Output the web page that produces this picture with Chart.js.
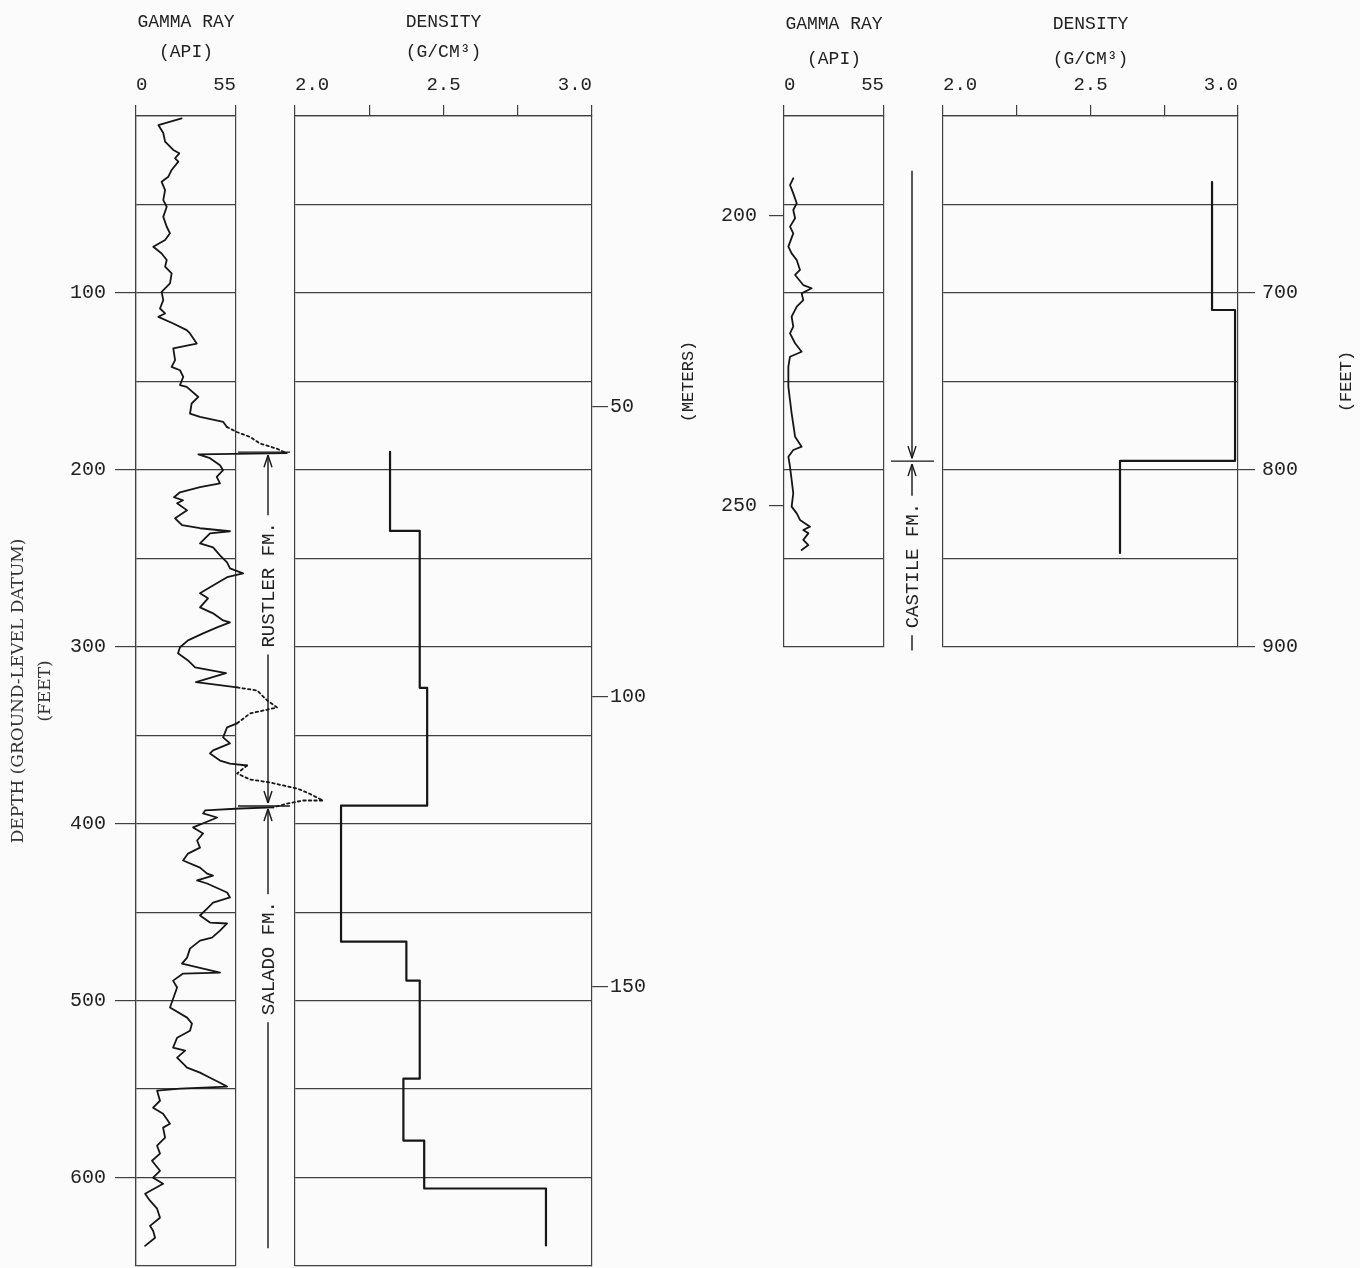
<!DOCTYPE html>
<html>
<head>
<meta charset="utf-8">
<title>Gamma ray and density logs</title>
<script src="https://cdn.jsdelivr.net/npm/chart.js@4.4.1/dist/chart.umd.min.js"></script>
<style>
  html, body { margin: 0; padding: 0; background: #fbfbfb; overflow: hidden; }
  body { width: 1360px; height: 1268px; position: relative; }
  canvas { position: absolute; top: 0; }
</style>
</head>
<body>
<canvas id="rho-upper" width="420" height="1268" style="left:240px"></canvas>
<canvas id="gr-upper" width="340" height="1268" style="left:0"></canvas>
<canvas id="rho-lower" width="430" height="660" style="left:930px"></canvas>
<canvas id="gr-lower" width="300" height="660" style="left:660px"></canvas>
<script>
(function () {
  'use strict';

  // Upper log, 0-650 ft: gamma ray trace (depth in feet, reading in API units)
  var grUpperFt = [1.3, 5.1, 9.6, 14.5, 19.2, 21.1, 23.9, 25.8, 30.5, 34.3, 37.2, 41.9, 47.5, 51.3, 57.0, 62.6,
    66.3, 70.1, 73.9, 77.7, 81.4, 85.2, 89.0, 94.6, 99.4, 104.1, 108.8, 111.6, 113.5, 117.3, 121.0, 122.9,
    128.6, 131.4, 138.0, 141.8, 143.7, 147.4, 152.1, 153.1, 158.8, 162.5, 168.2, 170.1, 172.9, 175.7,
    178.6, 181.4, 185.1, 188.0, 190.6, 191.2, 193.4, 197.4, 200.2, 204.0, 207.6, 209.8, 212.7, 215.5,
    217.2, 218.9, 222.9, 227.4, 231.3, 233.0, 234.7, 235.9, 241.5, 243.8, 248.3, 252.3, 255.7, 258.5,
    260.7, 266.4, 269.8, 272.6, 277.7, 281.1, 285.1, 286.2, 289.0, 292.4, 296.4, 300.3, 303.7, 307.7,
    311.6, 314.9, 320.0, 323.0, 324.7, 330.3, 334.3, 337.7, 343.3, 345.6, 351.2, 354.6, 358.6, 360.3,
    364.3, 366.0, 367.1, 371.6, 375.0, 376.7, 378.4, 380.1, 382.4, 386.9, 386.9, 388.6, 390.8, 391.4,
    392.5, 394.2, 396.5, 398.2, 402.1, 405.5, 409.5, 413.5, 416.9, 420.8, 424.8, 428.2, 429.3, 432.1,
    433.8, 438.9, 441.7, 444.6, 448.0, 451.9, 455.9, 456.4, 460.4, 464.4, 466.1, 470.6, 475.7, 479.1,
    484.2, 484.7, 488.7, 492.6, 503.9, 509.6, 513.0, 517.0, 521.0, 526.6, 528.3, 532.2, 537.9, 540.7,
    543.6, 546.4, 548.6, 549.8, 550.9, 556.6, 560.5, 563.9, 569.6, 571.8, 577.5, 582.0, 586.5, 590.5,
    596.2, 600.1, 603.5, 609.2, 613.1, 617.6, 622.7, 627.3, 630.1, 634.0, 638.6];
  var grUpperApi = [25.1, 12.3, 15.0, 16.0, 20.5, 23.8, 21.5, 23.3, 19.6, 17.8, 14.1, 16.0, 15.0, 16.9, 15.0, 16.9,
    18.7, 16.0, 9.5, 14.1, 16.9, 16.0, 19.6, 18.7, 14.1, 15.0, 13.2, 16.0, 12.3, 20.5, 27.9, 29.7,
    33.4, 20.5, 21.5, 19.6, 24.2, 26.0, 24.2, 27.9, 34.3, 30.6, 29.7, 35.2, 48.0, 49.9,
    55.4, 62.7, 68.2, 77.4, 82.9, 34.3, 40.7, 46.2, 47.9, 44.4, 46.2, 35.2, 24.2, 20.9,
    25.9, 22.6, 28.1, 21.5, 25.3, 35.2, 51.7, 40.7, 35.2, 42.4, 46.2, 50.1, 51.7, 58.9,
    50.1, 40.7, 35.2, 39.6, 35.2, 42.4, 47.9, 51.7, 44.6, 36.9, 28.6, 24.2, 23.1, 28.6,
    32.5, 49.5, 33.0, 55.6, 66.6, 72.1, 77.6, 62.7, 55.6, 50.1, 47.9, 51.7, 42.4, 40.7,
    46.2, 51.7, 61.1, 55.6, 62.7, 73.7, 80.9, 88.6, 94.1, 102.9, 91.9, 83.1, 75.4, 57.2,
    38.0, 36.9, 44.6, 40.7, 31.4, 36.9, 33.6, 35.2, 28.6, 25.9, 35.2, 39.1, 42.4, 33.6,
    39.1, 50.1, 51.7, 42.4, 39.1, 35.2, 40.7, 50.1, 46.2, 41.8, 35.2, 29.7, 28.1, 25.3,
    46.2, 25.9, 20.4, 22.6, 18.7, 28.1, 30.8, 29.7, 22.6, 20.4, 27.0, 22.6, 28.1, 35.2,
    40.7, 46.2, 50.1, 24.2, 11.6, 13.2, 9.4, 14.9, 18.7, 14.9, 16.0, 11.6, 13.2, 8.8,
    13.2, 9.4, 14.9, 5.0, 7.7, 11.6, 13.2, 7.7, 9.4, 10.5, 5.0];
  // depth ranges where the gamma trace is drawn dotted (off-scale readings)
  var grUpperDottedFt = [[175.5, 190.7], [322.9, 343.4], [366.9, 390.9]];

  // Upper log bulk density, stepped: each value holds from its top down to the next top
  var rhoUpperTopFt = [189.8, 234.5, 323.2, 389.8, 466.7, 488.7, 544.1, 579.1, 606.2, 638.4];
  var rhoUpperGcc = [2.32, 2.42, 2.445, 2.155, 2.375, 2.42, 2.365, 2.435, 2.845, 2.845];

  // Lower log, 600-900 ft
  var grLowerFt = [635.2, 639.0, 643.7, 649.3, 653.1, 657.8, 662.5, 666.3, 673.8, 677.6, 681.4, 687.0,
    689.8, 695.5, 697.3, 700.2, 704.0, 707.7, 713.4, 719.0, 722.8, 728.4, 733.2, 736.0, 741.6, 752.9,
    760.5, 768.0, 781.2, 786.8, 788.7, 792.5, 798.1, 805.6, 813.2, 820.7, 824.5, 828.2, 832.0, 833.9,
    835.8, 839.5, 842.4, 845.2];
  var grLowerApi = [5.1, 3.3, 5.1, 7.0, 5.1, 6.1, 3.3, 5.1, 2.4, 4.2, 7.0, 8.8,
    6.1, 10.6, 15.2, 9.7, 10.6, 7.0, 4.2, 5.1, 3.3, 6.1, 9.7, 3.3, 2.4, 2.4,
    3.3, 4.2, 6.1, 9.7, 5.1, 2.4, 3.3, 4.2, 5.1, 4.2, 7.0, 8.8, 14.3, 10.6,
    13.4, 10.6, 13.4, 9.7];
  var rhoLowerTopFt = [637.3, 709.6, 794.9, 846.9];
  var rhoLowerGcc = [2.912, 2.99, 2.60, 2.60];

  // Depth tick labels
  var upperMeterTicks = [50, 100, 150];
  var lowerMeterTicks = [200, 250];

  // Formation picks (feet)
  var upperFmNames = ['RUSTLER FM.', 'SALADO FM.'];
  var upperFmTopFt = [190, 390];
  var upperFmBaseFt = [390, 640];
  var upperFmLabelFt = [265, 476];
  var upperContactsFt = [190, 390];
  var lowerFmNames = ['', 'CASTILE FM.'];
  var lowerFmTopFt = [631, 795];
  var lowerFmBaseFt = [795, 902];
  var lowerFmLabelFt = [null, 854];
  var lowerContactsFt = [795];

  var FT_PER_M = 3.28084;
  var INK = '#161616';
  var RULE = '#404040';
  var TEXT = '#222';
  var MONO = "'Liberation Mono', 'DejaVu Sans Mono', monospace";

  Chart.defaults.color = TEXT;
  Chart.defaults.font.family = MONO;

  function points(ys, xs) {
    return ys.map(function (y, i) { return { x: xs[i], y: y }; });
  }

  function inRanges(v, ranges) {
    return ranges.some(function (r) { return v >= r[0] && v <= r[1]; });
  }

  // pin the axis boxes so every track lands on the same pixels as the scan
  function fixWidth(w) {
    return function (s) { s.width = w; s.paddingTop = 0; s.paddingBottom = 0; };
  }
  function fixHeight(h) {
    return function (s) { s.height = h; s.paddingLeft = 0; s.paddingRight = 0; };
  }

  function halfStep(v) { return Math.abs(v * 2 - Math.round(v * 2)) < 1e-6; }

  // formation brackets drawn in the gap right of the gamma track
  var formationPlugin = {
    id: 'formations',
    afterDatasetsDraw: function (chart, args, o) {
      var ctx = chart.ctx, area = chart.chartArea, ys = chart.scales[o.axis];
      var x = area.right + o.offset;
      function seg(x1, y1, x2, y2) {
        ctx.beginPath(); ctx.moveTo(x1, y1); ctx.lineTo(x2, y2); ctx.stroke();
      }
      function arrow(y, dir) {
        seg(x - 4, y - dir * 12, x, y);
        seg(x + 4, y - dir * 12, x, y);
      }
      ctx.save();
      ctx.strokeStyle = INK;
      ctx.fillStyle = TEXT;
      ctx.lineWidth = 1.4;
      o.contacts.forEach(function (ft) {
        var py = ys.getPixelForValue(ft);
        seg(area.right + o.markFrom, py, area.right + o.markTo, py);
      });
      ctx.font = '19px ' + MONO;
      ctx.textAlign = 'center';
      ctx.textBaseline = 'middle';
      o.names.forEach(function (name, i) {
        var topC = o.contacts.indexOf(o.tops[i]) >= 0;
        var baseC = o.contacts.indexOf(o.bases[i]) >= 0;
        var t0 = ys.getPixelForValue(o.tops[i]) + (topC ? 3 : 0);
        var b0 = ys.getPixelForValue(o.bases[i]) - (baseC ? 3 : 0);
        if (name) {
          var mid = ys.getPixelForValue(o.labels[i]);
          var half = ctx.measureText(name).width / 2 + 7;
          seg(x, t0, x, mid - half);
          seg(x, mid + half, x, b0);
          ctx.save();
          ctx.translate(x, mid);
          ctx.rotate(-Math.PI / 2);
          ctx.fillText(name, 0, 1);
          ctx.restore();
        } else {
          seg(x, t0, x, b0);
        }
        if (topC) arrow(t0, -1);
        if (baseC) arrow(b0, 1);
      });
      ctx.restore();
    }
  };

  // vertical caption read bottom-to-top beside the right-hand axis
  var sideTitlePlugin = {
    id: 'sideTitle',
    afterDraw: function (chart, args, o) {
      if (!o.text) return;
      var ctx = chart.ctx, a = chart.chartArea;
      ctx.save();
      ctx.font = o.size + 'px ' + MONO;
      ctx.fillStyle = TEXT;
      ctx.textAlign = 'center';
      ctx.textBaseline = 'middle';
      ctx.translate(a.right + o.dx, (a.top + a.bottom) / 2);
      ctx.rotate(-Math.PI / 2);
      ctx.fillText(o.text, 0, 0);
      ctx.restore();
    }
  };

  function baseOptions(padding) {
    return {
      responsive: false,
      animation: false,
      events: [],
      layout: { padding: padding, autoPadding: false },
      plugins: { legend: { display: false }, tooltip: { enabled: false } },
      scales: {}
    };
  }

  function headerAxis(min, max, title, lineHeight) {
    return {
      type: 'linear', position: 'top', min: min, max: max,
      afterFit: fixHeight(116),
      ticks: { align: 'inner', padding: 9, autoSkip: false, maxRotation: 0, color: TEXT, font: { family: MONO, size: 19 } },
      grid: { drawOnChartArea: false, color: RULE, tickColor: RULE, tickLength: 11, lineWidth: 1.2 },
      border: { color: RULE, width: 1.2 },
      title: { display: true, text: title, color: TEXT, padding: { top: 7, bottom: 0 },
        font: { family: MONO, size: 18, lineHeight: lineHeight } }
    };
  }

  function gammaAxis(lineHeight) {
    var ax = headerAxis(0, 55, ['GAMMA RAY', '(API)'], lineHeight);
    ax.afterBuildTicks = function (s) { s.ticks = [{ value: 0 }, { value: 55 }]; };
    return ax;
  }

  function densityAxis(lineHeight) {
    var ax = headerAxis(2, 3, ['DENSITY', '(G/CM\u00B3)'], lineHeight);
    ax.ticks.stepSize = 0.25;
    ax.ticks.callback = function (v) { return halfStep(v) ? v.toFixed(1) : ''; };
    return ax;
  }

  function gridOnlyDepth(position, min, max, width) {
    return {
      type: 'linear', position: position, reverse: true, min: min, max: max,
      afterFit: fixWidth(width),
      ticks: { display: false, stepSize: 50 },
      grid: { color: RULE, lineWidth: 1.2, drawTicks: false },
      border: { color: RULE, width: 1.2 }
    };
  }

  function labelledDepth(position, min, max, width, opts) {
    var ax = {
      type: 'linear', position: position, reverse: true, min: min, max: max,
      afterFit: fixWidth(width),
      ticks: {
        stepSize: 50, includeBounds: false, autoSkip: false, padding: opts.padding,
        color: TEXT, font: { family: MONO, size: 20 },
        callback: function (v) { return opts.show(v) ? String(v) : ''; }
      },
      grid: {
        drawOnChartArea: !!opts.onArea, color: RULE, lineWidth: 1.2, tickLength: opts.tick,
        tickColor: function (c) { return c.tick && opts.show(c.tick.value) ? RULE : 'rgba(0,0,0,0)'; }
      },
      border: { color: RULE, width: 1.2 }
    };
    if (opts.values) {
      ax.afterBuildTicks = function (s) { s.ticks = opts.values.map(function (v) { return { value: v }; }); };
    }
    return ax;
  }

  function traceDataset(data, extra) {
    var ds = {
      data: data, showLine: true, borderColor: INK, borderWidth: 1.8,
      pointRadius: 0, tension: 0, borderJoinStyle: 'round', borderCapStyle: 'round'
    };
    Object.keys(extra || {}).forEach(function (k) { ds[k] = extra[k]; });
    return ds;
  }

  // ---- upper gamma ray track (with depth scale in feet) ----
  var grUpperOpts = baseOptions({ left: 0, right: 104, top: 0, bottom: 2 });
  grUpperOpts.scales.x = gammaAxis('30px');
  grUpperOpts.scales.x.grid.drawOnChartArea = true;
  grUpperOpts.scales.y = labelledDepth('left', 0, 650, 136, {
    padding: 9, tick: 21, onArea: true,
    show: function (v) { return v % 100 === 0 && v > 0 && v < 650; }
  });
  grUpperOpts.scales.y.title = {
    display: true, text: ['DEPTH (GROUND-LEVEL DATUM)', '(FEET)'], color: '#333',
    padding: { top: 5, bottom: 0 },
    font: { family: "'DejaVu Serif', 'Liberation Serif', serif", size: 17, lineHeight: '27px' }
  };
  grUpperOpts.plugins.formations = {
    axis: 'y', offset: 32, markFrom: 2, markTo: 54,
    names: upperFmNames, tops: upperFmTopFt, bases: upperFmBaseFt,
    labels: upperFmLabelFt, contacts: upperContactsFt
  };

  new Chart(document.getElementById('gr-upper').getContext('2d'), {
    type: 'scatter',
    data: {
      datasets: [traceDataset(points(grUpperFt, grUpperApi), {
        clip: false,
        segment: {
          borderDash: function (c) {
            return inRanges(c.p0.parsed.y, grUpperDottedFt) && inRanges(c.p1.parsed.y, grUpperDottedFt) ? [2.5, 3] : undefined;
          }
        }
      })]
    },
    options: grUpperOpts,
    plugins: [formationPlugin]
  });

  // ---- upper density track (meters scale on the right) ----
  var rhoUpperOpts = baseOptions({ left: 0, right: 0, top: 0, bottom: 2 });
  rhoUpperOpts.scales.x = densityAxis('30px');
  rhoUpperOpts.scales.y = gridOnlyDepth('left', 0, 650, 55);
  rhoUpperOpts.scales.m = labelledDepth('right', 0, 650 / FT_PER_M, 68, {
    padding: 2, tick: 16, values: upperMeterTicks, show: function () { return true; }
  });

  new Chart(document.getElementById('rho-upper').getContext('2d'), {
    type: 'scatter',
    data: {
      datasets: [traceDataset(points(rhoUpperTopFt, rhoUpperGcc), { stepped: 'after', borderWidth: 2.2 })]
    },
    options: rhoUpperOpts
  });

  // ---- lower gamma ray track (meters scale on the left) ----
  var grLowerOpts = baseOptions({ left: 0, right: 76, top: 0, bottom: 13 });
  grLowerOpts.scales.x = gammaAxis('35px');
  grLowerOpts.scales.m = labelledDepth('left', 600 / FT_PER_M, 900 / FT_PER_M, 124, {
    padding: 12, tick: 15, values: lowerMeterTicks, show: function () { return true; }
  });
  grLowerOpts.scales.m.title = {
    display: true, text: '(METERS)', color: TEXT, padding: { top: 18, bottom: 0 },
    font: { family: MONO, size: 17 }
  };
  grLowerOpts.scales.y = gridOnlyDepth('right', 600, 900, 0);
  grLowerOpts.plugins.formations = {
    axis: 'y', offset: 28, markFrom: 7, markTo: 50,
    names: lowerFmNames, tops: lowerFmTopFt, bases: lowerFmBaseFt,
    labels: lowerFmLabelFt, contacts: lowerContactsFt
  };

  new Chart(document.getElementById('gr-lower').getContext('2d'), {
    type: 'scatter',
    data: { datasets: [traceDataset(points(grLowerFt, grLowerApi), { yAxisID: 'y' })] },
    options: grLowerOpts,
    plugins: [formationPlugin]
  });

  // ---- lower density track (feet scale on the right) ----
  var rhoLowerOpts = baseOptions({ left: 0, right: 0, top: 0, bottom: 13 });
  rhoLowerOpts.scales.x = densityAxis('35px');
  rhoLowerOpts.scales.y = gridOnlyDepth('left', 600, 900, 13);
  rhoLowerOpts.scales.r = labelledDepth('right', 600, 900, 122, {
    padding: 7, tick: 17, show: function (v) { return v % 100 === 0 && v > 600; }
  });
  rhoLowerOpts.plugins.sideTitle = { text: '(FEET)', dx: 108, size: 17 };

  new Chart(document.getElementById('rho-lower').getContext('2d'), {
    type: 'scatter',
    data: {
      datasets: [traceDataset(points(rhoLowerTopFt, rhoLowerGcc), { stepped: 'after', borderWidth: 2.2, yAxisID: 'y' })]
    },
    options: rhoLowerOpts,
    plugins: [sideTitlePlugin]
  });
})();
</script>
</body>
</html>
